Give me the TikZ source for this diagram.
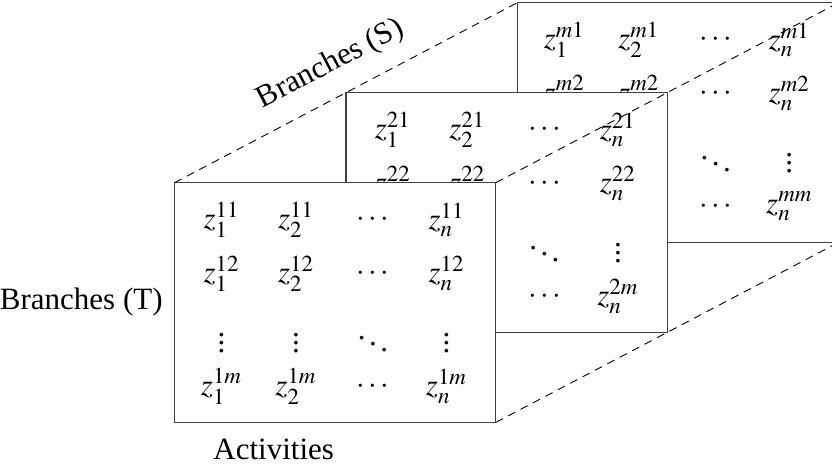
\documentclass[tikz,border=0pt]{standalone}
\usepackage{mathptmx}
\usepackage{fontspec}
\setmainfont{Liberation Serif}
\usetikzlibrary{calc}
\newcommand\zentries[4]{%
\begin{scope}[shift={(#1.north west)}]
\node[ent] (#1-11) at (47,37.3) {$z_1^{#2}$};
\node[ent] (#1-12) at (121.5,37.3) {$z_2^{#2}$};
\node[ent] (#1-13) at (198.5,37.3) {$\cdots$};
\node[ent] (#1-14) at (272,37.3) {$z_n^{#2}$};
\node[ent] (#1-21) at (47,90.8) {$z_1^{#3}$};
\node[ent] (#1-22) at (121.5,90.8) {$z_2^{#3}$};
\node[ent] (#1-23) at (198.5,90.8) {$\cdots$};
\node[ent] (#1-24) at (272,90.8) {$z_n^{#3}$};
\node[ent] (#1-31) at (47,154.8) {$\vdots$};
\node[ent] (#1-32) at (121.5,154.8) {$\vdots$};
\node[ent] (#1-33) at (198.5,154.8) {$\ddots$};
\node[ent] (#1-34) at (272,154.8) {$\vdots$};
\node[ent] (#1-41) at (47,203.8) {$z_1^{#4}$};
\node[ent] (#1-42) at (121.5,203.8) {$z_2^{#4}$};
\node[ent] (#1-43) at (198.5,203.8) {$\cdots$};
\node[ent] (#1-44) at (272,203.8) {$z_n^{#4}$};
\end{scope}}
\begin{document}
\begin{tikzpicture}[x=0.5pt,y=-0.5pt,
  every node/.style={font=\fontsize{15.5}{18.6}\selectfont},
  matbox/.style={draw=black!75, line width=0.65pt, fill=white, anchor=north west,
    minimum width=160.65pt, minimum height=119.85pt, inner sep=0pt, outer sep=0pt},
  ent/.style={inner sep=0pt, anchor=center},
  dline/.style={draw=black, line width=0.45pt, dash pattern=on 4pt off 3pt},
  lbl/.style={inner sep=0pt}]
\useasboundingbox (0,0) rectangle (832,469);
\node[matbox] (back) at (517.3,2.7) {};
\zentries{back}{m1}{m2}{mm}
\node[matbox] (mid) at (345.9,92.7) {};
\zentries{mid}{21}{22}{2m}
\node[matbox] (front) at (174.5,182.7) {};
\zentries{front}{11}{12}{1m}
\draw[dline] (front.north west) -- (back.north west);
\draw[dline] (front.north east) -- (back.north east);
\draw[dline] (front.south east) -- (back.south east);
\node[lbl, anchor=base east] (bt) at (163,310) {Branches (T)};
\node[lbl, anchor=base west] (act) at (213,460) {Activities};
\node[lbl, anchor=base, rotate=27.7] (bs) at (334,71) {Branches (S)};
\end{tikzpicture}
\end{document}
